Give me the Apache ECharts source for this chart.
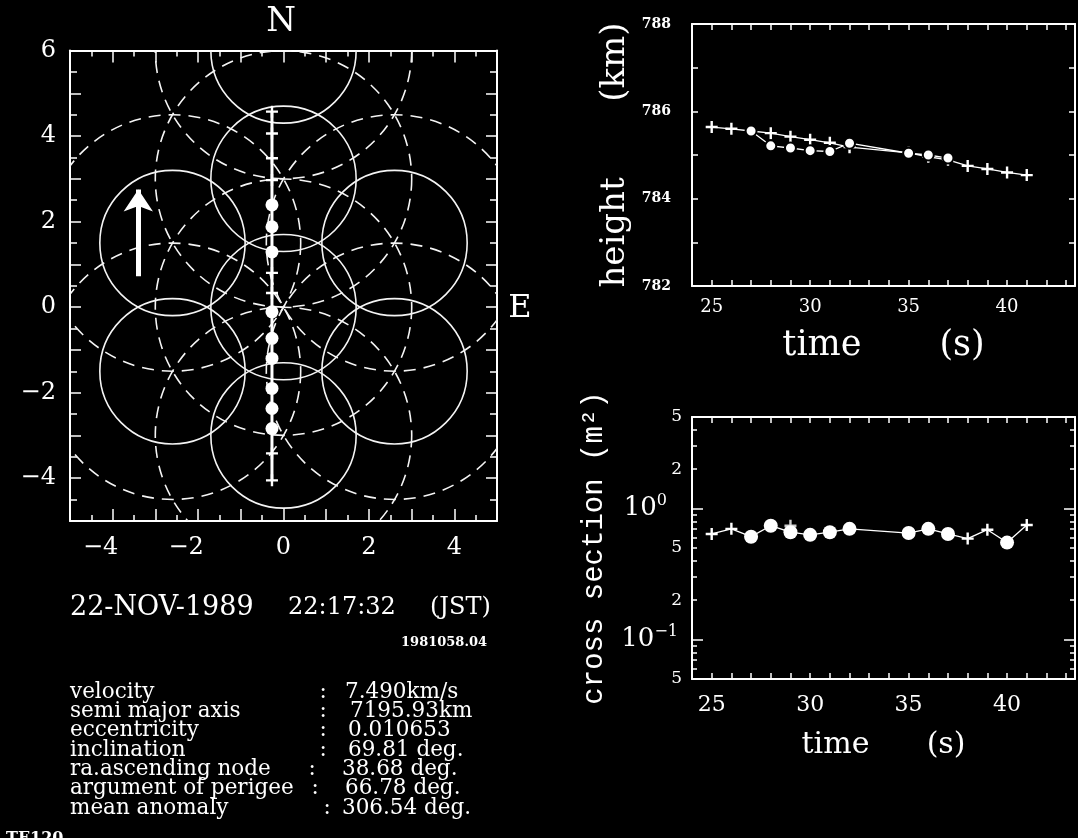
<!DOCTYPE html>
<html><head><meta charset="utf-8">
<script src="https://cdn.jsdelivr.net/npm/echarts@6/dist/echarts.min.js"></script>
<style>html,body{margin:0;padding:0;background:#000;}#c{width:1078px;height:838px;}</style>
</head><body><div id="c"></div>
<script>
// ================= DATA =================
// radar beam pattern (map plot, km east / km north)
const solidBeamCenters = [[0,6],[0,3],[0,0],[0,-3],[-2.6,1.5],[2.6,1.5],[-2.6,-1.5],[2.6,-1.5]];
const solidBeamRadius = 1.7;
const dashedBeamCenters = [[0,6],[0,3],[0,0],[0,-3],[-2.6,1.5],[2.6,1.5],[-2.6,-1.5],[2.6,-1.5]];
const dashedBeamRadius = 3;
// satellite track
const trackEast  = [-0.27,-0.27,-0.27,-0.27,-0.27,-0.27,-0.27,-0.27,-0.27,-0.27,-0.27,-0.27,-0.27,-0.27,-0.27,-0.27,-0.27];
const trackNorth = [4.57,4.06,3.48,2.97,2.39,1.88,1.29,0.80,0.33,-0.11,-0.73,-1.20,-1.90,-2.37,-2.84,-3.42,-4.05];
const trackMarker = ['+','+','+','+','o','o','o','+','+','o','o','o','o','o','o','+','+'];
const arrowFrom = [-3.4, 0.72];
const arrowTo   = [-3.4, 2.75];
const mapTicks = [-4,-2,0,2,4,6];
// height vs time
const heightPlusTime  = [25,26,27,28,29,30,31,32,35,36,37,38,39,40,41];
const heightPlusValue = [785.64,785.60,785.55,785.50,785.42,785.35,785.28,785.18,785.05,784.96,784.89,784.75,784.68,784.60,784.54];
const heightCircTime  = [27,28,29,30,31,32,35,36,37];
const heightCircValue = [785.55,785.21,785.16,785.10,785.08,785.27,785.04,785.00,784.93];
const heightTicks = [782,784,786,788];
const timeTicks = [25,30,35,40];
// cross section vs time
const crossTime  = [25,26,27,28,29,30,31,32,35,36,37,38,39,40,41];
const crossValue = [0.64,0.70,0.61,0.74,0.66,0.63,0.66,0.70,0.65,0.70,0.64,0.59,0.69,0.55,0.75];
const crossMarker = ['+','+','o','o','o','o','o','o','o','o','o','+','+','o','+'];
const crossExtraTime = [29];
const crossExtraValue = [0.74];
const crossTickValues = [5,2,1,0.5,0.2,0.1,0.05];
const crossTickLabels = ['5','2','10^0','5','2','10^-1','5'];
const crossMajorTicks = [1,0.1];
const crossMinorTicks = [0.05,0.06,0.07,0.08,0.09,0.2,0.3,0.4,0.5,0.6,0.7,0.8,0.9,2,3,4,5];
// texts
const dateParts = ['22-NOV-1989','22:17:32','(JST)'];
const objectId = '1981058.04';
const paramNames = ['velocity','semi major axis','eccentricity','inclination','ra.ascending node','argument of perigee','mean anomaly'];
const paramValues = ['7.490km/s','7195.93km','0.010653','69.81 deg.','38.68 deg.','66.78 deg.','306.54 deg.'];
const cornerText = 'TE120';

// ================= LAYOUT / STYLE =================
const F = 'DejaVu Serif';
const W = '#ffffff';
const L = Math.log10;
const plusPath = 'path://M4,0H6V4H10V6H6V10H4V6H0V4H4Z';
const lineAx = {show:true, onZero:false, lineStyle:{color:W, width:2}};
function tick(len){ return {show:true, inside:true, length:len, lineStyle:{color:W, width:1.5}}; }
const noSplit = {show:false};

function beamRender(radius, dashed){
  return function(params, api){
    const c = api.coord([api.value(0), api.value(1)]);
    const s = api.size([radius, radius]);
    return {type:'circle', shape:{cx:c[0], cy:c[1], r:(s[0]+s[1])/2},
      style:{fill:null, stroke:'#f4f4f4', lineWidth:1.6, lineDash: dashed ? [12,8] : null}};
  };
}

const mapLabel = {
  margin:15,
  formatter: v => mapTicks.indexOf(v) < 0 ? '' : (v < 0 ? '{t|\u2212' + (-v) + '}{s|}' : '{t|' + v + '}'),
  rich:{t:{fontFamily:F, fontSize:24, color:W}, s:{width:24}}
};
const mapYLabel = {
  margin:14, color:W, fontFamily:F, fontSize:24,
  formatter: v => mapTicks.indexOf(v) < 0 ? '' : (v < 0 ? '\u2212' + (-v) : '' + v)
};

const crossLabelFmt = v => {
  const i = crossTickValues.findIndex(t => Math.abs(L(t) - v) < 1e-6);
  if (i < 0) return '';
  const s = crossTickLabels[i];
  if (s.indexOf('10^') === 0) {
    const e = s.slice(3).replace('-', '\u2212');
    return '{b|10}{p|' + e + '}' + (e === '0' ? '{s0|}' : '{s1|}');
  }
  return '{d|' + s + '}';
};

const option = {
  backgroundColor:'#000',
  animation:false,
  grid:[
    {left:70, top:50.5, width:427, height:470.5},
    {left:692, top:24, width:389, height:262},
    {left:692, top:417, width:389, height:262}
  ],
  xAxis:[
    {gridIndex:0, type:'value', min:-5, max:5, interval:1, position:'bottom', axisLine:lineAx, axisTick:tick(12),
     minorTick:{show:true, splitNumber:2, length:6, lineStyle:{color:W, width:1.5}}, splitLine:noSplit, minorSplitLine:noSplit, axisLabel:mapLabel},
    {gridIndex:0, type:'value', min:-5, max:5, interval:1, position:'top', axisLine:lineAx, axisTick:tick(12),
     minorTick:{show:true, splitNumber:2, length:6, lineStyle:{color:W, width:1.5}}, splitLine:noSplit, minorSplitLine:noSplit, axisLabel:{show:false}},
    {gridIndex:1, type:'value', min:24, max:43.45, interval:1, position:'bottom', axisLine:lineAx, axisTick:tick(6), splitLine:noSplit,
     axisLabel:{margin:12, color:W, fontFamily:F, fontSize:18, formatter: v => timeTicks.indexOf(v) < 0 ? '' : '' + v},
     name:'time       (s)', nameLocation:'middle', nameGap:42, nameTextStyle:{color:W, fontFamily:F, fontSize:35}},
    {gridIndex:1, type:'value', min:24, max:43.45, interval:1, position:'top', axisLine:lineAx, axisTick:tick(6), splitLine:noSplit, axisLabel:{show:false}},
    {gridIndex:2, type:'value', min:24, max:43.45, interval:1, position:'bottom', axisLine:lineAx, axisTick:tick(6), splitLine:noSplit,
     axisLabel:{margin:15, color:W, fontFamily:F, fontSize:22, formatter: v => timeTicks.indexOf(v) < 0 ? '' : '' + v},
     name:'time      (s)', nameLocation:'middle', nameGap:51, nameTextStyle:{color:W, fontFamily:F, fontSize:30}},
    {gridIndex:2, type:'value', min:24, max:43.45, interval:1, position:'top', axisLine:lineAx, axisTick:tick(6), splitLine:noSplit, axisLabel:{show:false}}
  ],
  yAxis:[
    // 0,1 map
    {gridIndex:0, type:'value', min:-5, max:6, interval:1, position:'left', axisLine:lineAx, axisTick:tick(11),
     minorTick:{show:true, splitNumber:2, length:7, lineStyle:{color:W, width:1.5}}, splitLine:noSplit, minorSplitLine:noSplit, axisLabel:mapYLabel},
    {gridIndex:0, type:'value', min:-5, max:6, interval:1, position:'right', axisLine:lineAx, axisTick:tick(11),
     minorTick:{show:true, splitNumber:2, length:7, lineStyle:{color:W, width:1.5}}, splitLine:noSplit, minorSplitLine:noSplit, axisLabel:{show:false}},
    // 2,3 height
    {gridIndex:1, type:'value', min:782, max:788, interval:1, position:'left', axisLine:lineAx, axisTick:tick(6), splitLine:noSplit,
     axisLabel:{margin:21, color:W, fontFamily:F, fontSize:14, fontWeight:'bold', formatter: v => heightTicks.indexOf(v) < 0 ? '' : '' + v},
     name:'height       (km)', nameLocation:'middle', nameGap:60, nameTextStyle:{color:W, fontFamily:F, fontSize:34}},
    {gridIndex:1, type:'value', min:782, max:788, interval:1, position:'right', axisLine:lineAx, axisTick:tick(6), splitLine:noSplit, axisLabel:{show:false}},
    // 4 cross-section data axis (log)
    {gridIndex:2, type:'log', logBase:10, min:0.05, max:5, position:'left', show:false},
    // 5 cross-section labelled scale, major ticks
    {gridIndex:2, type:'value', min:L(0.05), max:L(5), position:'left', axisLine:lineAx, splitLine:noSplit,
     axisTick:{show:true, inside:true, length:11, customValues:crossMajorTicks.map(L), lineStyle:{color:W, width:1.5}},
     axisLabel:{margin:10, customValues:crossTickValues.map(L), formatter:crossLabelFmt,
       rich:{b:{fontFamily:F, fontSize:26, color:W}, p:{fontFamily:F, fontSize:16, color:W, padding:[0,0,16,0]},
             d:{fontFamily:F, fontSize:17, color:W}, s0:{width:15}, s1:{width:4}}},
     name:'cross section (m\u00b2)', nameLocation:'middle', nameGap:83,
     nameTextStyle:{color:W, fontFamily:'Liberation Mono', fontSize:29}},
    // 6 minor ticks left
    {gridIndex:2, type:'value', min:L(0.05), max:L(5), position:'left', axisLine:{show:false}, splitLine:noSplit,
     axisTick:{show:true, inside:true, length:5, customValues:crossMinorTicks.map(L), lineStyle:{color:W, width:1.5}}, axisLabel:{show:false}},
    // 7,8 right mirror
    {gridIndex:2, type:'value', min:L(0.05), max:L(5), position:'right', axisLine:lineAx, splitLine:noSplit,
     axisTick:{show:true, inside:true, length:11, customValues:crossMajorTicks.map(L), lineStyle:{color:W, width:1.5}}, axisLabel:{show:false}},
    {gridIndex:2, type:'value', min:L(0.05), max:L(5), position:'right', axisLine:{show:false}, splitLine:noSplit,
     axisTick:{show:true, inside:true, length:5, customValues:crossMinorTicks.map(L), lineStyle:{color:W, width:1.5}}, axisLabel:{show:false}}
  ],
  series:[
    {type:'custom', xAxisIndex:0, yAxisIndex:0, clip:true, encode:{x:0, y:1}, data:dashedBeamCenters, renderItem:beamRender(dashedBeamRadius, true), silent:true},
    {type:'custom', xAxisIndex:0, yAxisIndex:0, clip:true, encode:{x:0, y:1}, data:solidBeamCenters, renderItem:beamRender(solidBeamRadius, false), silent:true},
    {type:'line', xAxisIndex:0, yAxisIndex:0, lineStyle:{color:W, width:3}, itemStyle:{color:W},
     data: trackNorth.map((y,i) => ({value:[trackEast[i], y], symbol: trackMarker[i] === 'o' ? 'circle' : plusPath, symbolSize: trackMarker[i] === 'o' ? 13 : 12}))},
    {type:'lines', coordinateSystem:'cartesian2d', xAxisIndex:0, yAxisIndex:0, symbol:['none','arrow'], symbolSize:[18,22],
     lineStyle:{color:W, width:5, opacity:1}, data:[{coords:[arrowFrom, arrowTo]}]},
    // height
    {type:'line', xAxisIndex:2, yAxisIndex:2, symbol:plusPath, symbolSize:12, lineStyle:{color:W, width:1.3}, itemStyle:{color:W},
     data: heightPlusTime.map((t,i) => [t, heightPlusValue[i]])},
    {type:'line', xAxisIndex:2, yAxisIndex:2, symbol:'emptyCircle', symbolSize:11, lineStyle:{color:W, width:1.3}, itemStyle:{color:'#000', borderColor:W, borderWidth:2.5},
     data: heightCircTime.map((t,i) => [t, heightCircValue[i]])},
    // cross section
    {type:'line', xAxisIndex:4, yAxisIndex:4, lineStyle:{color:W, width:1.3}, itemStyle:{color:W},
     data: crossTime.map((t,i) => ({value:[t, crossValue[i]], symbol: crossMarker[i] === 'o' ? 'circle' : plusPath, symbolSize: crossMarker[i] === 'o' ? 14 : 12}))},
    {type:'scatter', xAxisIndex:4, yAxisIndex:4, symbol:plusPath, symbolSize:12, itemStyle:{color:W},
     data: crossExtraTime.map((t,i) => [t, crossExtraValue[i]])}
  ],
  graphic: (function(){
    const g = [];
    const txt = (text, x, y, size, align) => g.push({type:'text', x:x, y:y, silent:true,
      style:{text:text, fill:W, font:'normal ' + size + 'px "' + F + '"', align:align || 'left', verticalAlign:'middle'}});
    txt('N', 281, 22, 34, 'center');
    txt('E', 520, 309, 32, 'center');
    const dateX = [70, 288, 430];
    const dateSize = [27, 24, 24];
    dateParts.forEach((s,i) => txt(s, dateX[i], 608, dateSize[i], 'left'));
    g.push({type:'text', x:487, y:643, silent:true, style:{text:objectId, fill:W, font:'bold 13px "' + F + '"', align:'right', verticalAlign:'middle'}});
    const colonX = [323,323,323,323,312,315,327];
    const valueX = [345,350,348,348,342,345,342];
    paramNames.forEach((n,i) => {
      const y = 692 + 19.35 * i;
      txt(n, 70, y, 21.5, 'left');
      txt(':', colonX[i], y, 21.5, 'center');
      txt(paramValues[i], valueX[i], y, 21.5, 'left');
    });
    g.push({type:'text', x:6, y:831, silent:true, style:{text:cornerText, fill:W, font:'bold 16px "' + F + '"', align:'left', verticalAlign:'top'}});
    return g;
  })()
};

const chart = echarts.init(document.getElementById('c'), null, {renderer:'canvas'});
chart.setOption(option);
</script>
</body></html>
